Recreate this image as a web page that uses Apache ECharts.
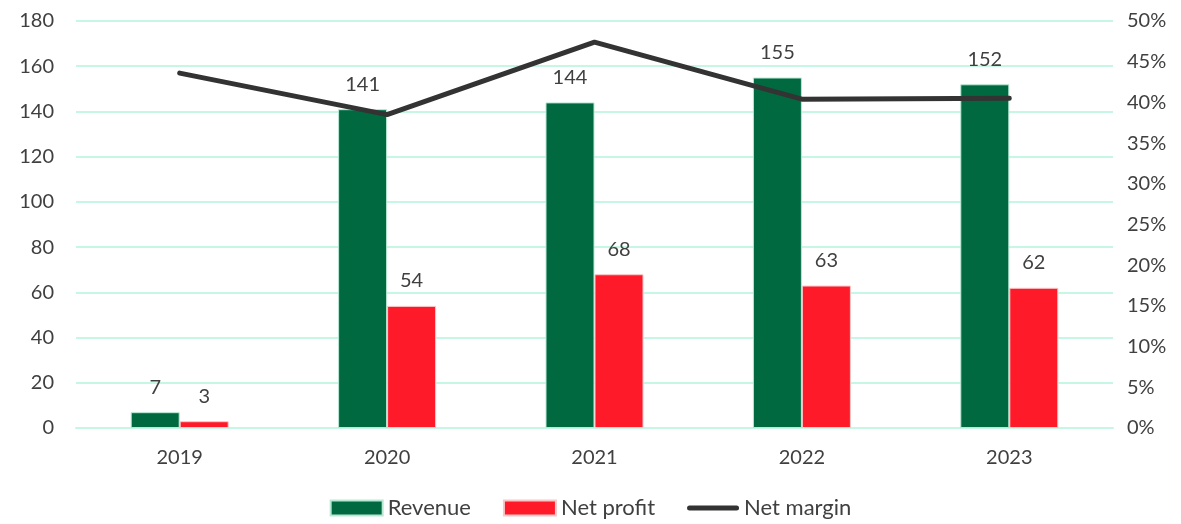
<!DOCTYPE html>
<html>
<head>
<meta charset="utf-8">
<script src="https://cdn.jsdelivr.net/npm/echarts@6/dist/echarts.min.js"></script>
<style>
  html, body { margin: 0; padding: 0; background: #fff; }
  #chart { width: 1181px; height: 524px; }
</style>
</head>
<body>
<div id="chart"></div>
<script>
// data
var years = ['2019', '2020', '2021', '2022', '2023'];
var revenue = [7, 141, 144, 155, 152];
var netProfit = [3, 54, 68, 63, 62];
var netMargin = [43.6, 38.5, 47.4, 40.4, 40.5];

var textColor = '#404040';
var gridColor = '#c6f7e4';
var font = 'Lato, "Open Sans", sans-serif';
// rounded bar used as the legend mark of the line
var lineIcon = 'path://M2.5,0 h47 a2.5,2.5 0 0 1 0,5 h-47 a2.5,2.5 0 0 1 0,-5z';

var chart = echarts.init(document.getElementById('chart'));

chart.setOption({
  animation: false,
  textStyle: { fontFamily: font },
  grid: { left: 76, right: 68, top: 21, bottom: 96, containLabel: false },
  legend: {
    bottom: 0,
    left: 'center',
    itemGap: 32,
    itemWidth: 52,
    itemHeight: 15,
    textStyle: { fontSize: 22, color: textColor, fontFamily: font, padding: [0, 0, 0, 0] },
    data: [
      { name: 'Revenue', icon: 'rect' },
      { name: 'Net profit', icon: 'rect' },
      { name: 'Net margin', icon: lineIcon }
    ]
  },
  xAxis: {
    type: 'category',
    data: years,
    axisLine: { show: true, lineStyle: { color: gridColor, width: 2 } },
    axisTick: { show: false },
    axisLabel: { color: textColor, fontSize: 20, margin: 20 }
  },
  yAxis: [{
    type: 'value',
    min: 0,
    max: 180,
    interval: 20,
    axisLine: { show: false },
    axisTick: { show: false },
    axisLabel: { color: textColor, fontSize: 20, margin: 22 },
    splitLine: { lineStyle: { color: gridColor, width: 2 } }
  }, {
    type: 'value',
    min: 0,
    max: 50,
    interval: 5,
    axisLine: { show: false },
    axisTick: { show: false },
    axisLabel: { color: textColor, fontSize: 20, margin: 14, formatter: '{value}%' },
    splitLine: { show: false }
  }],
  series: [{
    name: 'Revenue',
    type: 'bar',
    data: revenue,
    barWidth: 49,
    barGap: '0%',
    itemStyle: { color: '#006940', borderColor: '#b8e8d4', borderWidth: 1 },
    label: { show: true, position: 'top', distance: 15, color: textColor, fontSize: 20 }
  }, {
    name: 'Net profit',
    type: 'bar',
    data: netProfit,
    barWidth: 49,
    itemStyle: { color: '#ff1a2a', borderColor: '#f8c8c8', borderWidth: 1 },
    label: { show: true, position: 'top', distance: 15, color: textColor, fontSize: 20 }
  }, {
    name: 'Net margin',
    type: 'line',
    yAxisIndex: 1,
    data: netMargin,
    symbol: 'none',
    lineStyle: { color: '#333333', width: 5, cap: 'round', join: 'round' },
    itemStyle: { color: '#333333' }
  }]
});
</script>
</body>
</html>
